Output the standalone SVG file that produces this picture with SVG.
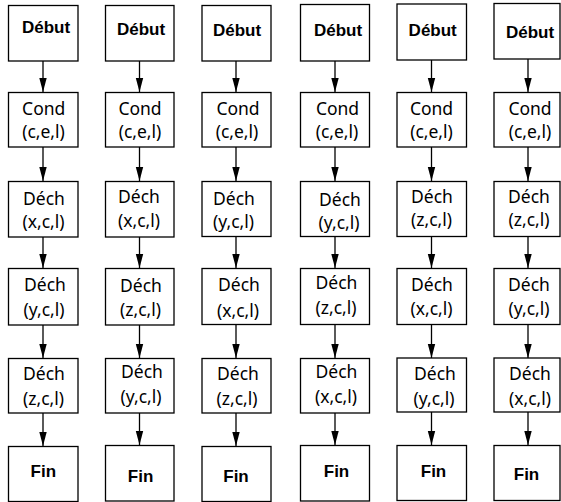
<svg xmlns="http://www.w3.org/2000/svg" width="561" height="502" viewBox="0 0 561 502">
<style>
rect{fill:#fff;stroke:#000;stroke-width:1.3}
.c line{stroke:#000;stroke-width:1.3}
text{fill:#000;text-anchor:middle}
.b{font-family:"Liberation Sans",Arial,sans-serif;font-weight:bold;font-size:17px}
.r{font-family:"Noto Sans","Open Sans",sans-serif;font-size:17.5px}
</style>
<defs>
<marker id="ah" markerUnits="userSpaceOnUse" markerWidth="16" markerHeight="10" viewBox="0 0 16 10" refX="15" refY="5" orient="auto">
<path d="M1,1.3 L15,5 L1,8.7 Z" fill="#000"/>
</marker>
</defs>
<rect x="0" y="0" width="561" height="502" style="fill:#fff;stroke:none"/>
<g class="c" id="connectors">
<g id="a1"><line x1="43" y1="61" x2="43" y2="92" marker-end="url(#ah)"/><line x1="43" y1="147" x2="43" y2="181" marker-end="url(#ah)"/><line x1="43" y1="237" x2="43" y2="268" marker-end="url(#ah)"/><line x1="43" y1="325" x2="43" y2="358" marker-end="url(#ah)"/><line x1="43" y1="413" x2="43" y2="446" marker-end="url(#ah)"/></g>
<g id="a2"><line x1="139.5" y1="61" x2="139.5" y2="92" marker-end="url(#ah)"/><line x1="139.5" y1="147" x2="139.5" y2="181" marker-end="url(#ah)"/><line x1="139.5" y1="237" x2="139.5" y2="268" marker-end="url(#ah)"/><line x1="139.5" y1="325" x2="139.5" y2="358" marker-end="url(#ah)"/><line x1="139.5" y1="413" x2="139.5" y2="445" marker-end="url(#ah)"/></g>
<g id="a3"><line x1="236" y1="61" x2="236" y2="92" marker-end="url(#ah)"/><line x1="236" y1="147" x2="236" y2="181" marker-end="url(#ah)"/><line x1="236" y1="237" x2="236" y2="268" marker-end="url(#ah)"/><line x1="236" y1="325" x2="236" y2="358" marker-end="url(#ah)"/><line x1="236" y1="413" x2="236" y2="446" marker-end="url(#ah)"/></g>
<g id="a4"><line x1="335" y1="61" x2="335" y2="92" marker-end="url(#ah)"/><line x1="335" y1="147" x2="335" y2="181" marker-end="url(#ah)"/><line x1="335" y1="237" x2="335" y2="268" marker-end="url(#ah)"/><line x1="335" y1="325" x2="335" y2="358" marker-end="url(#ah)"/><line x1="335" y1="413" x2="335" y2="445" marker-end="url(#ah)"/></g>
<g id="a5"><line x1="431.5" y1="60" x2="431.5" y2="92" marker-end="url(#ah)"/><line x1="431.5" y1="147" x2="431.5" y2="181" marker-end="url(#ah)"/><line x1="431.5" y1="237" x2="431.5" y2="268" marker-end="url(#ah)"/><line x1="431.5" y1="325" x2="431.5" y2="358" marker-end="url(#ah)"/><line x1="431.5" y1="412" x2="431.5" y2="445" marker-end="url(#ah)"/></g>
<g id="a6"><line x1="528" y1="59" x2="528" y2="92" marker-end="url(#ah)"/><line x1="528" y1="147" x2="528" y2="181" marker-end="url(#ah)"/><line x1="528" y1="237" x2="528" y2="268" marker-end="url(#ah)"/><line x1="528" y1="325" x2="528" y2="358" marker-end="url(#ah)"/><line x1="528" y1="412" x2="528" y2="445" marker-end="url(#ah)"/></g>
</g>

<!-- column 1 -->
<g id="c1-debut"><rect x="8.5" y="5.5" width="69.5" height="55.5"/><text class="b" x="46" y="32.5">Début</text></g>
<g id="c1-cond"><rect x="8.5" y="92.5" width="69.5" height="54.5"/><text class="r" x="43.7" y="115">Cond</text><text class="r" x="43.5" y="138">(c,e,l)</text></g>
<g id="c1-d1"><rect x="8.5" y="181.5" width="69.5" height="55.5"/><text class="r" x="44" y="205">Déch</text><text class="r" x="43.5" y="228">(x,c,l)</text></g>
<g id="c1-d2"><rect x="8.5" y="268.5" width="69.5" height="56.5"/><text class="r" x="45" y="291">Déch</text><text class="r" x="44" y="316">(y,c,l)</text></g>
<g id="c1-d3"><rect x="8.5" y="358.5" width="69.5" height="54.5"/><text class="r" x="44" y="380">Déch</text><text class="r" x="43.5" y="405">(z,c,l)</text></g>
<g id="c1-fin"><rect x="8.5" y="446.5" width="69.5" height="55"/><text class="b" x="43.3" y="476.7">Fin</text></g>

<!-- column 2 -->
<g id="c2-debut"><rect x="105.5" y="5.5" width="68.5" height="55.5"/><text class="b" x="141" y="35">Début</text></g>
<g id="c2-cond"><rect x="105.5" y="92.5" width="68.5" height="54.5"/><text class="r" x="140" y="115">Cond</text><text class="r" x="140" y="138">(c,e,l)</text></g>
<g id="c2-d1"><rect x="105.5" y="181.5" width="68.5" height="55.5"/><text class="r" x="139" y="203">Déch</text><text class="r" x="139" y="227">(x,c,l)</text></g>
<g id="c2-d2"><rect x="105.5" y="268.5" width="68.5" height="56.5"/><text class="r" x="141" y="291.5">Déch</text><text class="r" x="140.5" y="316">(z,c,l)</text></g>
<g id="c2-d3"><rect x="105.5" y="358.5" width="68.5" height="54.5"/><text class="r" x="142" y="378">Déch</text><text class="r" x="141" y="403">(y,c,l)</text></g>
<g id="c2-fin"><rect x="105.5" y="445.5" width="68.5" height="55.5"/><text class="b" x="140.6" y="481.7">Fin</text></g>

<!-- column 3 -->
<g id="c3-debut"><rect x="202" y="5.5" width="69" height="55.5"/><text class="b" x="237" y="35.5">Début</text></g>
<g id="c3-cond"><rect x="202" y="92.5" width="69" height="54.5"/><text class="r" x="238" y="115">Cond</text><text class="r" x="237" y="138">(c,e,l)</text></g>
<g id="c3-d1"><rect x="202" y="181.5" width="69" height="55"/><text class="r" x="234" y="205">Déch</text><text class="r" x="233.5" y="228">(y,c,l)</text></g>
<g id="c3-d2"><rect x="202" y="268.5" width="69" height="56"/><text class="r" x="239" y="291">Déch</text><text class="r" x="238" y="316.5">(x,c,l)</text></g>
<g id="c3-d3"><rect x="202" y="358.5" width="69" height="54.5"/><text class="r" x="238" y="380">Déch</text><text class="r" x="237" y="405">(z,c,l)</text></g>
<g id="c3-fin"><rect x="202" y="446.5" width="69" height="55"/><text class="b" x="236" y="481.7">Fin</text></g>

<!-- column 4 -->
<g id="c4-debut"><rect x="300.5" y="4.5" width="69" height="56.5"/><text class="b" x="338" y="35.5">Début</text></g>
<g id="c4-cond"><rect x="300.5" y="92.5" width="69" height="54.5"/><text class="r" x="337.5" y="115">Cond</text><text class="r" x="337" y="138">(c,e,l)</text></g>
<g id="c4-d1"><rect x="300.5" y="181.5" width="69" height="55"/><text class="r" x="340" y="205.5">Déch</text><text class="r" x="339" y="228.5">(y,c,l)</text></g>
<g id="c4-d2"><rect x="300.5" y="268.5" width="69" height="56"/><text class="r" x="336.5" y="289">Déch</text><text class="r" x="336" y="314">(z,c,l)</text></g>
<g id="c4-d3"><rect x="300.5" y="358.5" width="69" height="54.5"/><text class="r" x="336.5" y="378.3">Déch</text><text class="r" x="336" y="403">(x,c,l)</text></g>
<g id="c4-fin"><rect x="300.5" y="445.5" width="69" height="55.5"/><text class="b" x="336.5" y="476.7">Fin</text></g>

<!-- column 5 -->
<g id="c5-debut"><rect x="397" y="4" width="69.5" height="56"/><text class="b" x="432.7" y="35.5">Début</text></g>
<g id="c5-cond"><rect x="397" y="92.5" width="69.5" height="54.5"/><text class="r" x="431.5" y="115">Cond</text><text class="r" x="431.5" y="138">(c,e,l)</text></g>
<g id="c5-d1"><rect x="397" y="181.5" width="69.5" height="55"/><text class="r" x="432" y="203">Déch</text><text class="r" x="431.5" y="226">(z,c,l)</text></g>
<g id="c5-d2"><rect x="397" y="268.5" width="69.5" height="56"/><text class="r" x="432" y="291">Déch</text><text class="r" x="431.5" y="315">(x,c,l)</text></g>
<g id="c5-d3"><rect x="397" y="358" width="69.5" height="54"/><text class="r" x="435" y="380">Déch</text><text class="r" x="434" y="405">(y,c,l)</text></g>
<g id="c5-fin"><rect x="397" y="445.5" width="69.5" height="55"/><text class="b" x="433.5" y="476.7">Fin</text></g>

<!-- column 6 -->
<g id="c6-debut"><rect x="494" y="3.5" width="66" height="55.5"/><text class="b" x="530" y="38">Début</text></g>
<g id="c6-cond"><rect x="494" y="92.5" width="66" height="54.5"/><text class="r" x="530" y="115">Cond</text><text class="r" x="530" y="138">(c,e,l)</text></g>
<g id="c6-d1"><rect x="494" y="181.5" width="66" height="55"/><text class="r" x="529" y="203">Déch</text><text class="r" x="529" y="226">(z,c,l)</text></g>
<g id="c6-d2"><rect x="494" y="268.5" width="66" height="56"/><text class="r" x="529" y="291">Déch</text><text class="r" x="529" y="315">(y,c,l)</text></g>
<g id="c6-d3"><rect x="494" y="358" width="66" height="54"/><text class="r" x="530" y="380">Déch</text><text class="r" x="530" y="405">(x,c,l)</text></g>
<g id="c6-fin"><rect x="494" y="445.5" width="66" height="55"/><text class="b" x="526.5" y="480">Fin</text></g>
</svg>
